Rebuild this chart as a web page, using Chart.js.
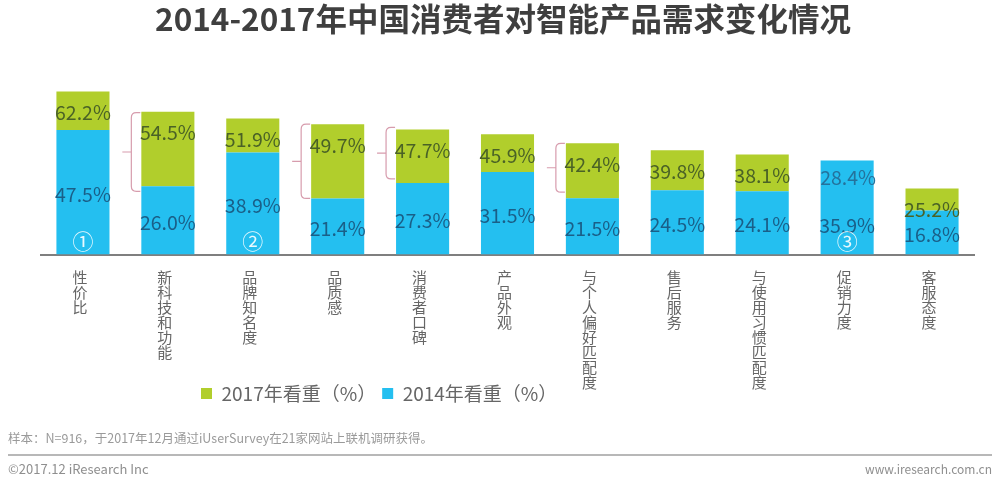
<!DOCTYPE html>
<html><head><meta charset="utf-8">
<style>html,body{margin:0;padding:0;background:#fff;overflow:hidden}canvas{display:block}</style>
<script src="https://cdn.jsdelivr.net/npm/chart.js@4"></script></head>
<body><canvas id="c" width="1000" height="480" style="width:1000px;height:480px"></canvas>
<script>
const FONT = '"Noto Sans CJK SC","Noto Sans",sans-serif';
const titleText = '2014-2017年中国消费者对智能产品需求变化情况';
const categories = ['性价比','新科技和功能','品牌知名度','品质感','消费者口碑','产品外观','与个人偏好匹配度','售后服务','与使用习惯匹配度','促销力度','客服态度'];
const values2017 = [62.2,54.5,51.9,49.7,47.7,45.9,42.4,39.8,38.1,28.4,25.2];
const values2014 = [47.5,26.0,38.9,21.4,27.3,31.5,21.5,24.5,24.1,35.9,16.8];
const series2017Name = '2017年看重（%）';
const series2014Name = '2014年看重（%）';
const bracketBars = [1,3,4,6];
const circledBars = [[0,'①'],[2,'②'],[9,'③']];
const noteText = '样本：N=916，于2017年12月通过iUserSurvey在21家网站上联机调研获得。';
const copyrightText = '©2017.12 iResearch Inc';
const siteText = 'www.iresearch.com.cn';

// The green segment shows the gain between the two surveys, stacked on the 2014 bar.
const gain = values2017.map((v,i)=>Math.max(0, +(v-values2014[i]).toFixed(1)));

const overlay = {
  id:'overlay',
  afterLayout(chart){
    chart.titleBlock.left = 6; chart.titleBlock.right = 1000;
    const h = chart.legend.height;
    chart.legend.left = 195; chart.legend.right = 1000;
    chart.legend.top = 378; chart.legend.bottom = 378+h;
  },
  afterDatasetsDraw(chart){
    const c = chart.ctx, y = chart.scales.y;
    const blue = chart.getDatasetMeta(0).data, green = chart.getDatasetMeta(1).data;
    c.save();
    c.textAlign='center'; c.textBaseline='middle';
    c.font = '19.5px '+FONT;
    values2014.forEach((v,i)=>{
      const b = blue[i], g = green[i];
      let by = (b.y+b.base)/2+2, gy = g.y+21;
      if (gain[i]===0){ gy = y.getPixelForValue(values2017[i])-2; by = (b.y+b.base)/2+18; }
      c.fillStyle='#1a5f88'; c.fillText(v.toFixed(1)+'%', b.x, by);
      c.fillStyle= gain[i]===0 ? '#24729c' : '#4a6226'; c.fillText(values2017[i].toFixed(1)+'%', b.x+(gain[i]===0?1:0), gy);
    });
    c.font='21px '+FONT; c.fillStyle='rgba(255,255,255,.9)';
    circledBars.forEach(([i,s])=>c.fillText(s, blue[i].x, y.getPixelForValue(0)-13));
    c.strokeStyle='#d79cad'; c.lineWidth=1.2;
    bracketBars.forEach(i=>{
      const b=blue[i], g=green[i], xv=b.x-b.width/2-10, xa=xv+9, xt=xv-9, r=5;
      const top=g.y+(i===1?1:i===4?-2:0), bot=b.y+(i===1?5:i===3?0:i===4?-4:-6), mid=(top+bot)/2;
      c.beginPath();
      c.moveTo(xa,top); c.lineTo(xv+r,top); c.quadraticCurveTo(xv,top,xv,top+r);
      c.lineTo(xv,bot-r); c.quadraticCurveTo(xv,bot,xv+r,bot); c.lineTo(xa,bot);
      c.moveTo(xt,mid); c.lineTo(xv,mid); c.stroke();
    });
    c.textAlign='left'; c.textBaseline='middle';
    c.fillStyle='#9a9a9a'; c.font='12.5px '+FONT; c.fillText(noteText,8,438);
    c.strokeStyle='#a0a0a0'; c.lineWidth=1.5; c.beginPath(); c.moveTo(8,455); c.lineTo(992,455); c.stroke();
    c.fillStyle='#8f8f8f'; c.font='13px '+FONT; c.fillText(copyrightText,8,469);
    c.font='12px '+FONT; c.textAlign='right'; c.fillText(siteText,992,469);
    c.restore();
  }
};

new Chart(document.getElementById('c'),{
  type:'bar',
  data:{labels:categories,datasets:[
    {label:series2014Name,data:values2014,backgroundColor:'#24bff0',stack:'a',barPercentage:1,categoryPercentage:.625},
    {label:series2017Name,data:gain,backgroundColor:'#b1ce2c',stack:'a',barPercentage:1,categoryPercentage:.625}
  ]},
  options:{
    responsive:false,animation:false,devicePixelRatio:1,
    layout:{padding:{top:0,left:40.5,right:25.5,bottom:50.5}},
    plugins:{
      tooltip:{enabled:false},
      title:{display:true,text:titleText,color:'#3f3f3f',font:{family:FONT,size:31.5,weight:'bold',lineHeight:1.2},padding:{top:0,bottom:33.2}},
      legend:{display:true,position:'bottom',align:'start',reverse:true,
        labels:{boxWidth:11,boxHeight:11,padding:6,color:'#666',font:{family:FONT,size:19}}}
    },
    scales:{
      x:{stacked:true,grid:{display:false,drawTicks:false},border:{display:true,color:'#7f7f7f',width:2},
        afterFit(s){s.height=140},
        ticks:{autoSkip:false,maxRotation:0,minRotation:0,padding:15,labelOffset:-3,color:'#666',
          font:{family:FONT,size:15,lineHeight:1},
          callback(v){return Array.from(categories[v])}}},
      y:{stacked:true,display:false,min:0,max:70}
    }
  },
  plugins:[overlay]
});
</script></body></html>
